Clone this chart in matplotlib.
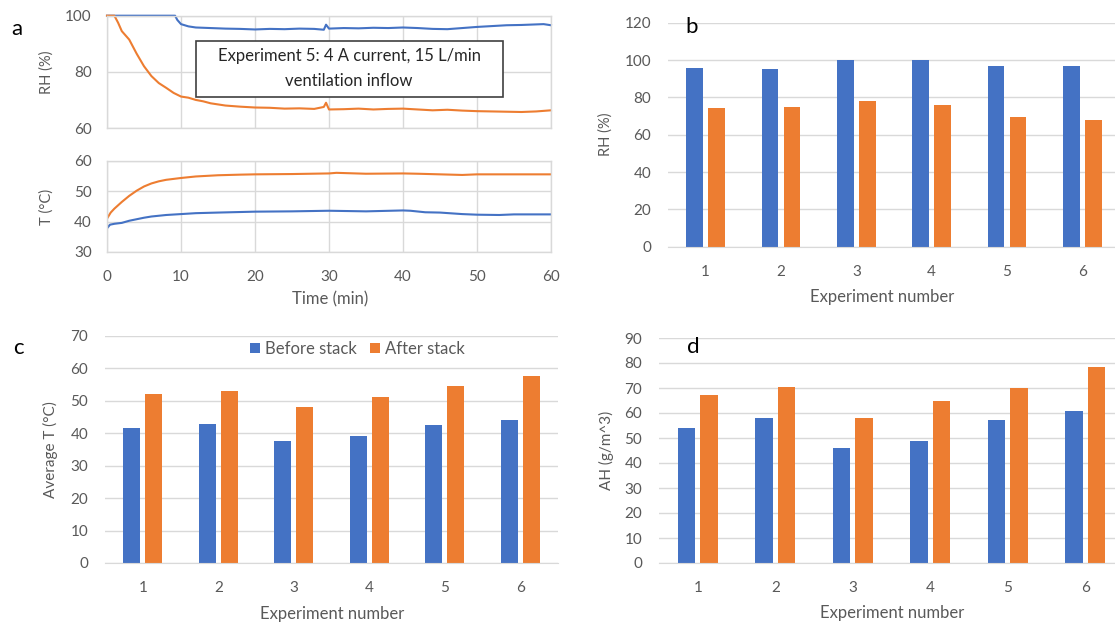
import matplotlib
matplotlib.use("Agg")
import matplotlib.pyplot as plt
from matplotlib.patches import Rectangle

# ---- data ----
experiments = [1, 2, 3, 4, 5, 6]

rh_before = [96.0, 95.3, 100.0, 100.0, 96.6, 96.6]
rh_after = [74.4, 75.1, 78.1, 76.1, 69.3, 67.7]

temp_before = [41.7, 43.0, 37.7, 39.1, 42.7, 44.1]
temp_after = [52.2, 53.1, 48.0, 51.1, 54.7, 57.8]

ah_before = [54.0, 58.0, 46.1, 48.7, 57.2, 61.0]
ah_after = [67.2, 70.6, 58.0, 65.0, 70.2, 78.6]

# experiment 5 time series (minutes)
rh_before_time = [0, 9.2, 9.5, 10, 11, 12, 14, 16, 18, 20, 22, 24, 26, 28, 29.3, 29.6, 30,
                  32, 34, 36, 38, 40, 42, 44, 46, 48, 50, 52, 54, 56, 58, 59, 60]
rh_before_series = [100, 100, 98.5, 97.0, 96.2, 95.8, 95.6, 95.4, 95.3, 95.1, 95.3, 95.2, 95.4,
                    95.3, 95.0, 96.8, 95.4, 95.6, 95.5, 95.7, 95.6, 95.8, 95.6, 95.3, 95.2,
                    95.6, 96.0, 96.3, 96.6, 96.7, 96.9, 97.0, 96.6]

rh_after_time = [0, 1, 1.5, 2, 2.5, 3, 3.5, 4, 5, 6, 7, 8, 9, 10, 11, 12, 13, 14, 15, 16, 18,
                 20, 22, 24, 26, 28, 29.3, 29.6, 30, 32, 34, 36, 38, 40, 42, 44, 46, 48, 50,
                 52, 54, 56, 58, 60]
rh_after_series = [100, 100, 97.5, 94.5, 93.0, 91.5, 89.0, 86.5, 82.0, 78.5, 76.0, 74.3, 72.5,
                   71.2, 70.8, 70.0, 69.5, 68.8, 68.4, 68.0, 67.6, 67.3, 67.2, 66.9, 67.0, 66.8,
                   67.5, 69.0, 66.6, 66.7, 66.9, 66.6, 66.8, 66.9, 66.6, 66.3, 66.5, 66.2, 66.0,
                   65.9, 65.8, 65.7, 65.9, 66.3]

t_after_time = [0, 0.5, 1, 2, 3, 4, 5, 6, 7, 8, 10, 12, 15, 18, 20, 25, 30, 31, 35, 40, 42,
                45, 48, 50, 55, 60]
t_after_series = [41.0, 43.0, 44.3, 46.5, 48.5, 50.2, 51.6, 52.6, 53.3, 53.8, 54.4, 54.9, 55.3,
                  55.5, 55.6, 55.7, 55.9, 56.1, 55.8, 55.9, 55.8, 55.6, 55.4, 55.6, 55.6, 55.6]

t_before_time = [0, 0.4, 1, 2, 3, 4, 5, 6, 8, 10, 12, 15, 20, 25, 30, 35, 40, 41, 43, 45, 48,
                 50, 53, 55, 60]
t_before_series = [37.8, 39.0, 39.3, 39.6, 40.3, 40.8, 41.3, 41.7, 42.2, 42.5, 42.8, 43.0, 43.3,
                   43.4, 43.6, 43.4, 43.7, 43.6, 43.1, 43.0, 42.5, 42.3, 42.2, 42.4, 42.4]

BLUE = "#4472C4"
ORANGE = "#ED7D31"
GRID = "#D9D9D9"
TXT = "#595959"
TICK = 11

plt.rcParams['font.family'] = ['Lato', 'DejaVu Sans']

W, H = 1115, 622
fig = plt.figure(figsize=(W / 100, H / 100), dpi=100)


def rect(l, t, r, b):
    return [l / W, 1 - b / H, (r - l) / W, (b - t) / H]


def ftext(x, y, s, **kw):
    fig.text(x / W, 1 - y / H, s, ha='center', va='center', **kw)


def style_line_axes(ax):
    for sp in ax.spines.values():
        sp.set_color(GRID)
        sp.set_linewidth(1)
    ax.grid(True, color=GRID, linewidth=1)
    ax.set_axisbelow(True)
    ax.tick_params(length=0, labelsize=TICK, labelcolor=TXT, pad=11)


def bar_panel(ax, before, after, ymax, step):
    w = 0.22
    xb = [e - 0.145 for e in experiments]
    xa = [e + 0.145 for e in experiments]
    ax.bar(xb, before, width=w, color=BLUE, label='Before stack')
    ax.bar(xa, after, width=w, color=ORANGE, label='After stack')
    ax.set_xlim(0.5, 6.5)
    ax.set_ylim(0, ymax)
    ax.set_yticks(range(0, ymax + 1, step))
    ax.set_xticks(experiments)
    for sp in ['top', 'right', 'left']:
        ax.spines[sp].set_visible(False)
    ax.spines['bottom'].set_color(GRID)
    ax.grid(True, axis='y', color=GRID, linewidth=1)
    ax.set_axisbelow(True)
    ax.tick_params(length=0, labelsize=TICK, labelcolor=TXT)
    ax.tick_params(axis='y', pad=12)
    ax.tick_params(axis='x', pad=13)


# ---- panel a ----
ax1 = fig.add_axes(rect(107, 15.7, 551, 128))
ax1.plot(rh_before_time, rh_before_series, color=BLUE, lw=1.5, clip_on=False)
ax1.plot(rh_after_time, rh_after_series, color=ORANGE, lw=1.5, clip_on=False)
ax1.set_xlim(0, 60)
ax1.set_ylim(60, 100)
ax1.set_yticks([60, 80, 100])
ax1.set_xticks(range(0, 61, 10))
ax1.set_xticklabels([])
style_line_axes(ax1)

ax2 = fig.add_axes(rect(107, 161, 551, 252))
ax2.plot(t_after_time, t_after_series, color=ORANGE, lw=1.5)
ax2.plot(t_before_time, t_before_series, color=BLUE, lw=1.5)
ax2.set_xlim(0, 60)
ax2.set_ylim(30, 60)
ax2.set_yticks([30, 40, 50, 60])
ax2.set_xticks(range(0, 61, 10))
style_line_axes(ax2)
ax2.tick_params(axis='x', pad=13)

fig.add_artist(Rectangle((196 / W, 1 - 97 / H), (503 - 196) / W, (97 - 41) / H,
                         transform=fig.transFigure, facecolor='white',
                         edgecolor='#404040', linewidth=1.2))
ftext(349, 56, "Experiment 5: 4 A current, 15 L/min", fontsize=12, color='#262626')
ftext(349, 81, "ventilation inflow", fontsize=12, color='#262626')

ftext(47, 72, "RH (%)", rotation=90, fontsize=10.5, color=TXT)
ftext(47, 207, "T (°C)", rotation=90, fontsize=10.5, color=TXT)
ftext(330, 299, "Time (min)", fontsize=12, color=TXT)

# ---- panel b ----
axb = fig.add_axes(rect(668, 22.7, 1120, 246.7))
bar_panel(axb, rh_before, rh_after, 120, 20)
ftext(606, 134, "RH (%)", rotation=90, fontsize=10.5, color=TXT)
ftext(882, 297, "Experiment number", fontsize=12, color=TXT)

# ---- panel c ----
axc = fig.add_axes(rect(105, 336, 558, 563))
bar_panel(axc, temp_before, temp_after, 70, 10)
ftext(50, 450, "Average T (°C)", rotation=90, fontsize=11, color=TXT)
ftext(332, 614, "Experiment number", fontsize=12, color=TXT)
axc.legend(loc='center', bbox_to_anchor=(357 / W, 1 - 349 / H), bbox_transform=fig.transFigure,
           ncol=2, frameon=False, fontsize=12, labelcolor=TXT, handlelength=0.6,
           handleheight=0.6, handletextpad=0.3, columnspacing=0.8)

# ---- panel d ----
axd = fig.add_axes(rect(659, 338, 1124, 563))
bar_panel(axd, ah_before, ah_after, 90, 10)
ftext(606, 450, "AH (g/m^3)", rotation=90, fontsize=11, color=TXT)
ftext(892, 613, "Experiment number", fontsize=12, color=TXT)

# panel letters
ftext(17, 29, "a", fontsize=16)
ftext(692, 27, "b", fontsize=16)
ftext(18, 348, "c", fontsize=16)
ftext(693, 347, "d", fontsize=16)

fig.savefig("out.png", dpi=100)
